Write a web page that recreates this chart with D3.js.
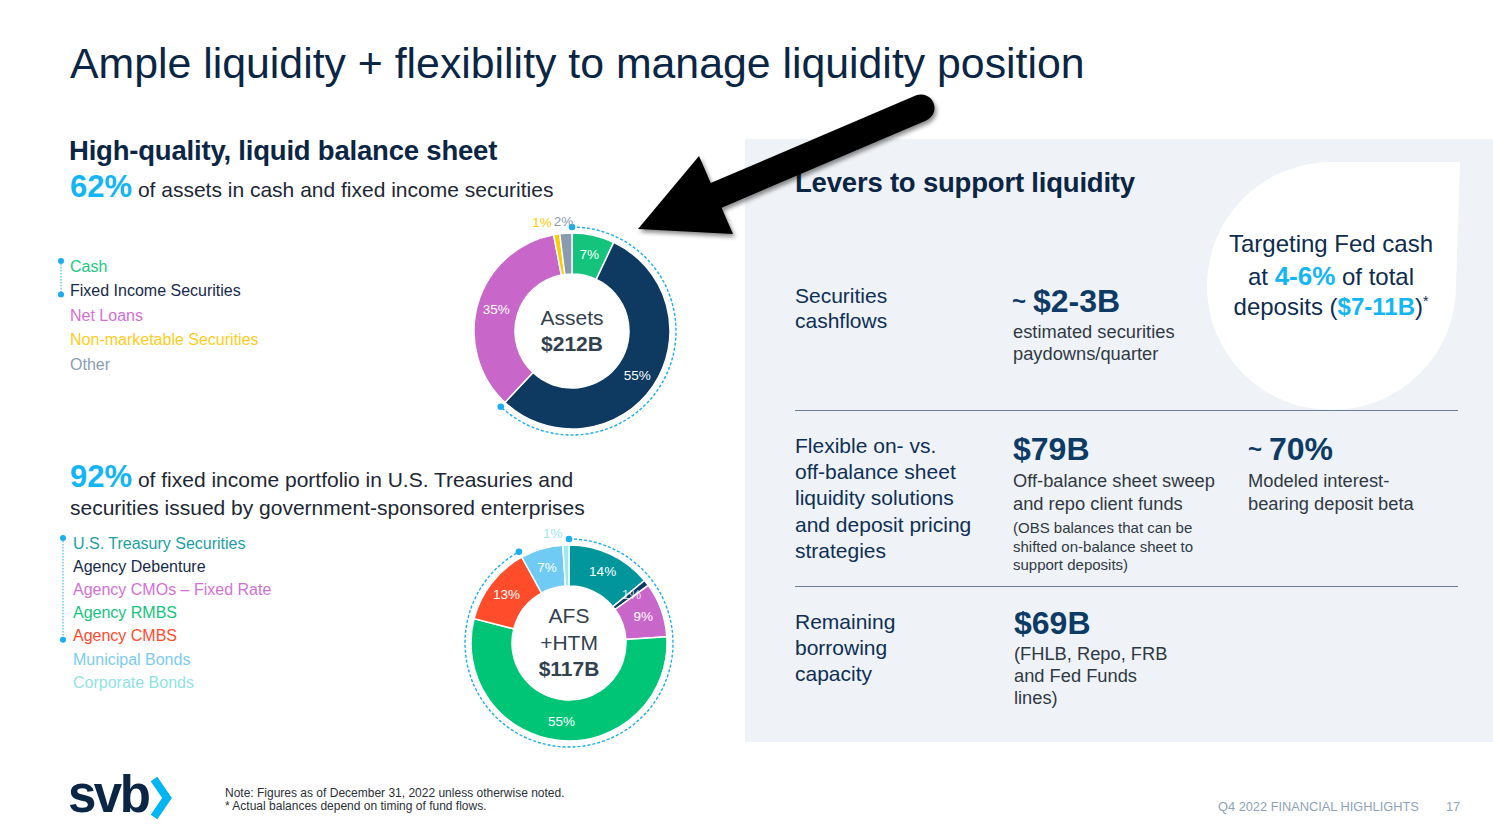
<!DOCTYPE html>
<html>
<head>
<meta charset="utf-8">
<script src="https://cdn.jsdelivr.net/npm/d3@7"></script>
<style>
  body { margin: 0; background: #fff; }
  svg { display: block; font-family: "Liberation Sans", Arial, sans-serif; }
</style>
</head>
<body>
<svg id="chart" width="1493" height="836"></svg>
<script>
// balance sheet (top donut)
var assetCategories = ["Cash", "Fixed Income Securities", "Net Loans", "Non-marketable Securities", "Other"];
var assetValues = [7, 55, 35, 1, 2];
var assetColors = ["#14c47c", "#0e3a62", "#c966c9", "#ffcc00", "#8a9bb0"];
var assetLegendColors = ["#1bc983", "#17294a", "#d470d6", "#ffcc1a", "#8a9db2"];
var assetCenter = ["Assets", "$212B"];
var assetHighlight = 2; // cash + fixed income = 62%

// fixed income portfolio (bottom donut)
var afsCategories = ["U.S. Treasury Securities", "Agency Debenture", "Agency CMOs \u2013 Fixed Rate", "Agency RMBS", "Agency CMBS", "Municipal Bonds", "Corporate Bonds"];
var afsValues = [14, 1, 9, 55, 13, 7, 1];
var afsColors = ["#00969c", "#0e3a62", "#c966c9", "#00c577", "#ff4c2b", "#6fcbf4", "#9fe8eb"];
var afsLegendColors = ["#1b9fa4", "#17294a", "#d470d6", "#13c47c", "#ff4a2c", "#7ccbf2", "#8fe3e6"];
var afsCenter = ["AFS", "+HTM", "$117B"];
var afsHighlight = 5; // 92%

var navy = "#0b2545";
var cyan = "#12b5f5";
var dash = "#19aeef";

var svg = d3.select("#chart");

function text(x, y, str, size, weight, color, anchor) {
  return svg.append("text")
    .attr("x", x).attr("y", y)
    .attr("font-size", size)
    .attr("font-weight", weight || "normal")
    .attr("fill", color || navy)
    .attr("text-anchor", anchor || "start")
    .text(str);
}

function lines(x, y0, step, arr, size, weight, color) {
  arr.forEach(function(s, i) { text(x, y0 + i * step, s, size, weight, color); });
}

// right panel background
svg.append("rect").attr("x", 745).attr("y", 139).attr("width", 748).attr("height", 603).attr("fill", "#eff3f7");

// title
text(70, 78, "Ample liquidity + flexibility to manage liquidity position", 42.8, "normal", navy);

// left headings
text(69, 160, "High-quality, liquid balance sheet", 27.5, "bold", navy).attr("letter-spacing", -0.2);
var t62 = text(70, 197, "", 21, "normal", "#1d2733");
t62.append("tspan").attr("font-size", 31).attr("font-weight", "bold").attr("fill", cyan).text("62%");
t62.append("tspan").text(" of assets in cash and fixed income securities");

var t92 = text(70, 487, "", 21, "normal", "#1d2733");
t92.append("tspan").attr("font-size", 31).attr("font-weight", "bold").attr("fill", cyan).text("92%");
t92.append("tspan").text(" of fixed income portfolio in U.S. Treasuries and");
text(70, 515, "securities issued by government-sponsored enterprises", 21, "normal", "#1d2733");

// legends
function drawLegend(x, y0, step, cats, colors, highlight, bx) {
  cats.forEach(function(c, i) {
    text(x, y0 + i * step + 5.5, c, 16, "normal", colors[i]);
  });
  var top = y0 - 5, bottom = y0 + (highlight - 1) * step + 4;
  svg.append("line").attr("x1", bx).attr("x2", bx).attr("y1", top).attr("y2", bottom)
    .attr("stroke", dash).attr("stroke-width", 1).attr("stroke-dasharray", "1.5,1.5");
  [top, bottom].forEach(function(y) {
    svg.append("circle").attr("cx", bx).attr("cy", y).attr("r", 3).attr("fill", dash);
  });
}
drawLegend(70, 266, 24.5, assetCategories, assetLegendColors, assetHighlight, 61);
drawLegend(73, 543, 23.2, afsCategories, afsLegendColors, afsHighlight, 63);

// donuts
function drawDonut(cx, cy, values, colors, centerLines, highlight) {
  var g = svg.append("g").attr("transform", "translate(" + cx + "," + cy + ")");
  var arcs = d3.pie().sort(null).value(function(d) { return d; })(values);
  var arc = d3.arc().innerRadius(57).outerRadius(98);

  g.selectAll(".slice")
    .data(arcs)
    .enter().append("path")
    .attr("class", "slice")
    .attr("d", arc)
    .attr("fill", function(d, i) { return colors[i]; })
    .attr("stroke", "#fff")
    .attr("stroke-width", 1.5);

  // dashed bracket around highlighted share
  var end = arcs[highlight - 1].endAngle;
  var rr = 104;
  var p = d3.path();
  p.arc(0, 0, rr, -Math.PI / 2, end - Math.PI / 2);
  g.append("path").attr("d", p.toString())
    .attr("fill", "none").attr("stroke", dash).attr("stroke-width", 1.4).attr("stroke-dasharray", "3,2");
  [0, end].forEach(function(a) {
    g.append("circle").attr("cx", rr * Math.sin(a)).attr("cy", -rr * Math.cos(a)).attr("r", 3.3).attr("fill", dash);
  });

  // percentage labels
  var inner = d3.arc().innerRadius(79).outerRadius(79);
  var outer = d3.arc().innerRadius(110).outerRadius(110);
  var prevEnd = null;
  arcs.forEach(function(d, i) {
    var mid = (d.startAngle + d.endAngle) / 2;
    var outside = d.data < 3 && mid > Math.PI * 11 / 6;
    if (!outside) {
      var c = inner.centroid(d);
      g.append("text").attr("x", c[0]).attr("y", c[1]).attr("dy", "0.35em")
        .attr("text-anchor", "middle").attr("font-size", 13.5)
        .attr("fill", d.data < 3 ? "rgba(255,255,255,0.8)" : "#fff")
        .text(d.data + "%");
    } else {
      var o = outer.centroid(d);
      var t = g.append("text").attr("y", o[1]).attr("dy", "0.35em")
        .attr("font-size", 13.5).attr("fill", colors[i]).text(d.data + "%");
      if (prevEnd === null) {
        t.attr("x", o[0] - 3).attr("text-anchor", "end");
        prevEnd = o[0] - 2;
      } else {
        t.attr("x", prevEnd + 1).attr("text-anchor", "start");
        prevEnd = prevEnd + 1 + t.node().getComputedTextLength();
      }
    }
  });

  // center text
  var n = centerLines.length;
  centerLines.forEach(function(s, i) {
    g.append("text").attr("x", 0).attr("y", -13.3 * (n - 1) + 7 + i * 26.5)
      .attr("text-anchor", "middle").attr("font-size", 21)
      .attr("font-weight", i === n - 1 ? "bold" : "normal")
      .attr("fill", "#33414f").text(s);
  });
}
drawDonut(572, 331, assetValues, assetColors, assetCenter, assetHighlight);
drawDonut(569, 643, afsValues, afsColors, afsCenter, afsHighlight);

// right panel
text(795, 192, "Levers to support liquidity", 27.5, "bold", navy).attr("letter-spacing", -0.2);

// white leaf
var bx = 1331, by = 286, br = 124;
svg.append("path")
  .attr("d", "M" + (bx - br) + "," + by +
    " A" + br + "," + br + " 0 0 1 " + bx + "," + (by - br) +
    " L" + (bx + br + 5) + "," + (by - br) +
    " L" + (bx + br + 1) + "," + by +
    " A" + br + "," + br + " 0 0 1 " + bx + "," + (by + br) +
    " A" + br + "," + br + " 0 0 1 " + (bx - br) + "," + by + " Z")
  .attr("fill", "#fff");

var bubbleNavy = "#0d2c4f";
text(bx, 252, "Targeting Fed cash", 24, "normal", bubbleNavy, "middle");
var b2 = text(bx, 285, "", 24, "normal", bubbleNavy, "middle");
b2.append("tspan").text("at ");
b2.append("tspan").attr("font-weight", "bold").attr("fill", cyan).attr("font-size", 26).text("4-6%");
b2.append("tspan").text(" of total");
var b3 = text(bx, 315, "", 24, "normal", bubbleNavy, "middle");
b3.append("tspan").text("deposits (");
b3.append("tspan").attr("font-weight", "bold").attr("fill", cyan).text("$7-11B");
b3.append("tspan").text(")");
b3.append("tspan").attr("font-size", 14).attr("dy", -9).text("*");

var rowNavy = "#0e2f55";
var valNavy = "#0d3b66";
var descGrey = "#2f3944";

function value(x, y, tilde, str) {
  var t = text(x, y, "", 32, "bold", valNavy);
  if (tilde) {
    t.append("tspan").attr("font-size", 24).attr("dy", -3).text("~");
    t.append("tspan").attr("dy", 3).attr("dx", 7).text(str);
  } else {
    t.append("tspan").text(str);
  }
}

// row 1
lines(795, 303, 25, ["Securities", "cashflows"], 21, "normal", rowNavy);
value(1012, 312, true, "$2-3B");
lines(1013, 338, 21.5, ["estimated securities", "paydowns/quarter"], 18.3, "normal", descGrey);

svg.append("line").attr("x1", 795).attr("x2", 1458).attr("y1", 410.5).attr("y2", 410.5).attr("stroke", "#6a7f95").attr("stroke-width", 1);

// row 2
lines(795, 453, 26.2, ["Flexible on- vs.", "off-balance sheet", "liquidity solutions", "and deposit pricing", "strategies"], 21, "normal", rowNavy);
value(1013, 460, false, "$79B");
lines(1013, 487, 23, ["Off-balance sheet sweep", "and repo client funds"], 18.3, "normal", descGrey);
lines(1013, 533, 18.7, ["(OBS balances that can be", "shifted on-balance sheet to", "support deposits)"], 15, "normal", descGrey);
value(1248, 460, true, "70%");
lines(1248, 487, 23, ["Modeled interest-", "bearing deposit beta"], 18.3, "normal", descGrey);

svg.append("line").attr("x1", 795).attr("x2", 1458).attr("y1", 586.5).attr("y2", 586.5).attr("stroke", "#6a7f95").attr("stroke-width", 1);

// row 3
lines(795, 629, 26, ["Remaining", "borrowing", "capacity"], 21, "normal", rowNavy);
value(1014, 634, false, "$69B");
lines(1014, 660, 22, ["(FHLB, Repo, FRB", "and Fed Funds", "lines)"], 18.3, "normal", descGrey);

// arrow annotation
var defs = svg.append("defs");
var f = defs.append("filter").attr("id", "shadow").attr("x", "-20%").attr("y", "-20%").attr("width", "140%").attr("height", "140%");
f.append("feDropShadow").attr("dx", 2).attr("dy", 3).attr("stdDeviation", 2).attr("flood-color", "#000").attr("flood-opacity", 0.45);
var ag = svg.append("g").attr("filter", "url(#shadow)");
ag.append("line").attr("x1", 921).attr("y1", 108).attr("x2", 710).attr("y2", 198)
  .attr("stroke", "#000").attr("stroke-width", 27).attr("stroke-linecap", "round");
ag.append("polygon").attr("points", "638,229 699,156 733,234").attr("fill", "#000");

// footer
text(68, 812, "svb", 51, "bold", navy).attr("letter-spacing", -2.5);
svg.append("polyline").attr("points", "154,779 167,798 154,817")
  .attr("fill", "none").attr("stroke", "#00b5f1").attr("stroke-width", 8).attr("stroke-linejoin", "miter");
text(225, 797, "Note: Figures as of December 31, 2022 unless otherwise noted.", 12, "normal", "#2a2f36");
text(225, 810, "* Actual balances depend on timing of fund flows.", 12, "normal", "#2a2f36");
text(1218, 811, "Q4 2022 FINANCIAL HIGHLIGHTS", 12.8, "normal", "#8ea3b8");
text(1446, 811, "17", 12.8, "normal", "#8ea3b8");
</script>
</body>
</html>
